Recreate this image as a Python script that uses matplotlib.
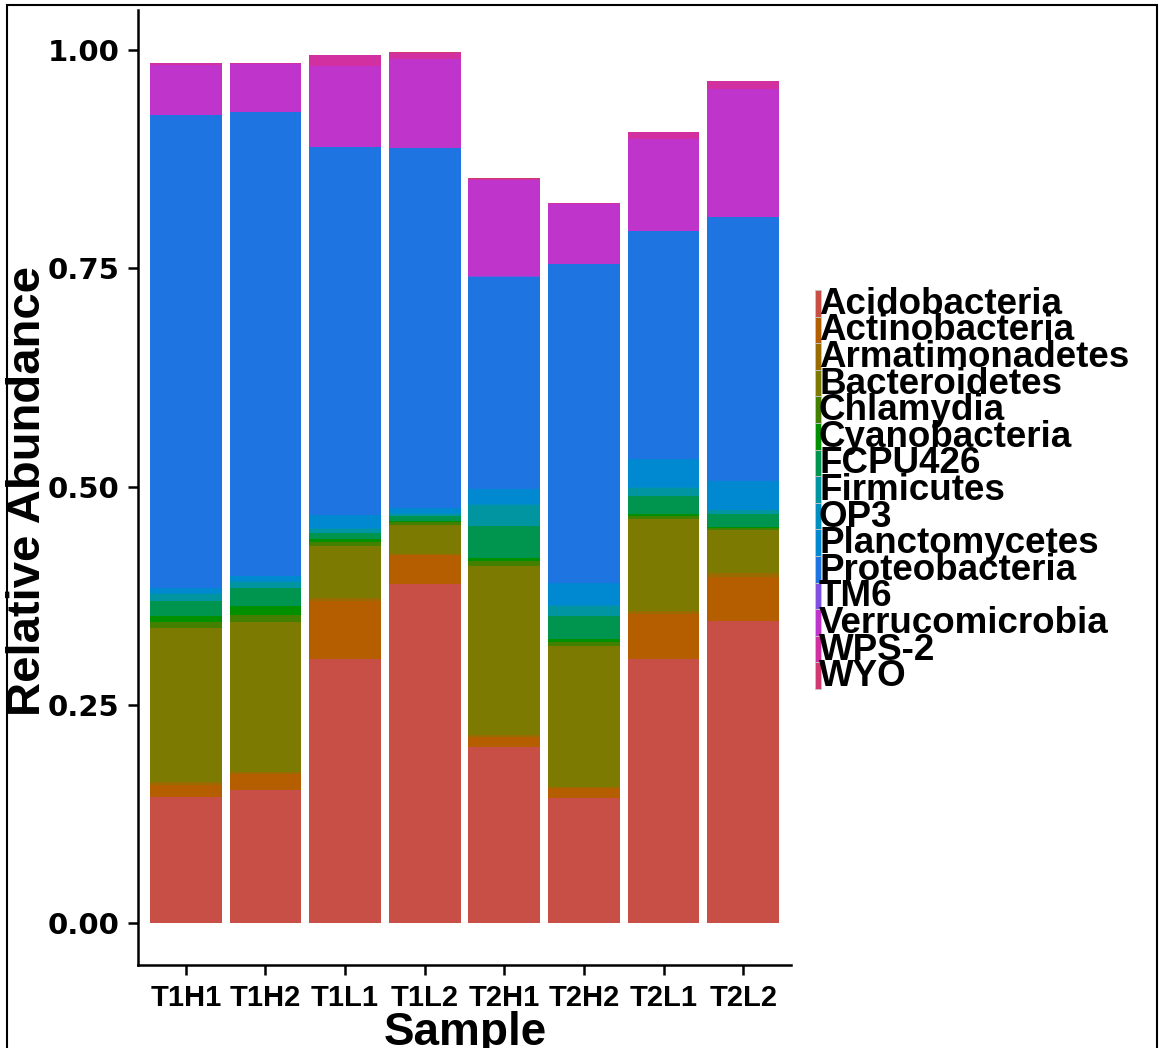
import numpy as np
import matplotlib.pyplot as plt
from matplotlib.patches import Rectangle

samples = ["T1H1", "T1H2", "T1L1", "T1L2", "T2H1", "T2H2", "T2L1", "T2L2"]
phyla = ["Acidobacteria", "Actinobacteria", "Armatimonadetes", "Bacteroidetes",
         "Chlamydia", "Cyanobacteria", "FCPU426", "Firmicutes", "OP3",
         "Planctomycetes", "Proteobacteria", "TM6", "Verrucomicrobia", "WPS-2", "WYO"]
colors = ["#C84F45", "#B55E00", "#9A6B00", "#7C7A00", "#438000", "#009000",
          "#00954F", "#0095A0", "#008FC0", "#0088D0", "#1E74E0", "#8050E0",
          "#BF35CB", "#D22FA0", "#D03A70"]

# relative abundance per phylum, one value per sample
acidobacteria   = [0.144, 0.1523, 0.3024, 0.3883, 0.2012, 0.1436, 0.3024, 0.3459]
actinobacteria  = [0.014, 0.0183, 0.0664, 0.0332, 0.0118, 0.0116, 0.0516, 0.0508]
armatimonadetes = [0.004, 0.002, 0.0032, 0.001, 0.0023, 0.001, 0.0038, 0.0046]
bacteroidetes   = [0.1755, 0.1718, 0.060, 0.0335, 0.1936, 0.1611, 0.105, 0.0489]
chlamydia       = [0.007, 0.0084, 0.004, 0.003, 0.0058, 0.005, 0.0034, 0.0023]
cyanobacteria   = [0.0075, 0.0107, 0.004, 0.002, 0.0038, 0.003, 0.0026, 0.0015]
fcpu426         = [0.017, 0.0206, 0.007, 0.005, 0.0366, 0.026, 0.0207, 0.0145]
firmicutes      = [0.0085, 0.0069, 0.005, 0.003, 0.0244, 0.0122, 0.0095, 0.0046]
op3             = [0.0005, 0.0005, 0.001, 0.001, 0.0005, 0.0005, 0.0005, 0.0005]
planctomycetes  = [0.006, 0.006, 0.015, 0.006, 0.0171, 0.0251, 0.0317, 0.0331]
proteobacteria  = [0.5415, 0.5315, 0.4205, 0.4117, 0.2433, 0.3658, 0.2615, 0.302]
tm6             = [0.0005, 0.0005, 0.0005, 0.0003, 0.0006, 0.0006, 0.0005, 0.0005]
verrucomicrobia = [0.0573, 0.0541, 0.093, 0.1017, 0.1101, 0.0677, 0.1048, 0.1458]
wps2            = [0.0015, 0.0014, 0.0123, 0.0073, 0.0014, 0.0013, 0.0077, 0.0091]
wyo             = [0.0005, 0.0005, 0.0007, 0.001, 0.0005, 0.0005, 0.0005, 0.0005]

abund = [acidobacteria, actinobacteria, armatimonadetes, bacteroidetes, chlamydia,
         cyanobacteria, fcpu426, firmicutes, op3, planctomycetes, proteobacteria,
         tm6, verrucomicrobia, wps2, wyo]

W, H = 1160, 1048
narrow = ["Liberation Sans Narrow", "Liberation Sans", "DejaVu Sans"]

def fx(px):
    return px / W

def fy(py):
    return 1 - py / H

fig = plt.figure(figsize=(W / 100, H / 100), dpi=100)
ax = fig.add_axes([fx(138), fy(965), (791 - 138) / W, (965 - 10) / H])

x = np.arange(1, len(samples) + 1)
bottom = np.zeros(len(samples))
for name, vals, c in zip(phyla, abund, colors):
    vals = np.array(vals)
    ax.bar(x, vals, 0.9, bottom=bottom, color=c, linewidth=0)
    bottom += vals

ax.set_xlim(0.4, 8.6)
ax.set_ylim(-0.048, 1.046)
ax.set_xticks(x)
ax.set_xticklabels(samples, fontsize=21, fontweight="bold", family=narrow)
ax.set_yticks([0, 0.25, 0.5, 0.75, 1.0])
ax.set_yticklabels(["0.00", "0.25", "0.50", "0.75", "1.00"], fontsize=21, fontweight="bold",
                   family="DejaVu Sans")
ax.tick_params(axis="both", length=7.5, width=1.8, color="black")
ax.tick_params(axis="y", pad=6)
ax.tick_params(axis="x", pad=6)
for s in ["top", "right"]:
    ax.spines[s].set_visible(False)
for s in ["left", "bottom"]:
    ax.spines[s].set_linewidth(1.8)

fig.text(fx(465), fy(1033), "Sample", fontsize=33, fontweight="bold", family=narrow,
         ha="center", va="center")
fig.text(fx(28), fy(491), "Relative Abundance", fontsize=34, fontweight="bold", family=narrow,
         ha="center", va="center", rotation=90)

# legend drawn by hand: thin colour keys with big labels
step = 26.6
for i, (name, c) in enumerate(zip(phyla, colors)):
    top = 290 + i * step
    fig.add_artist(Rectangle((fx(815), fy(top + step)), 6 / W, step / H,
                             transform=fig.transFigure, facecolor=c,
                             edgecolor="#c8c8c8", linewidth=0.6))
    fig.text(fx(819), fy(top + step / 2 + 1), name, fontsize=26.5, fontweight="bold",
             family="Liberation Sans", ha="left", va="center")

# outer frame
fig.add_artist(Rectangle((fx(7), -0.01), (1157 - 7) / W, fy(5) + 0.01,
                         transform=fig.transFigure, fill=False,
                         edgecolor="black", linewidth=1.5))

fig.savefig("out.png", dpi=100)
